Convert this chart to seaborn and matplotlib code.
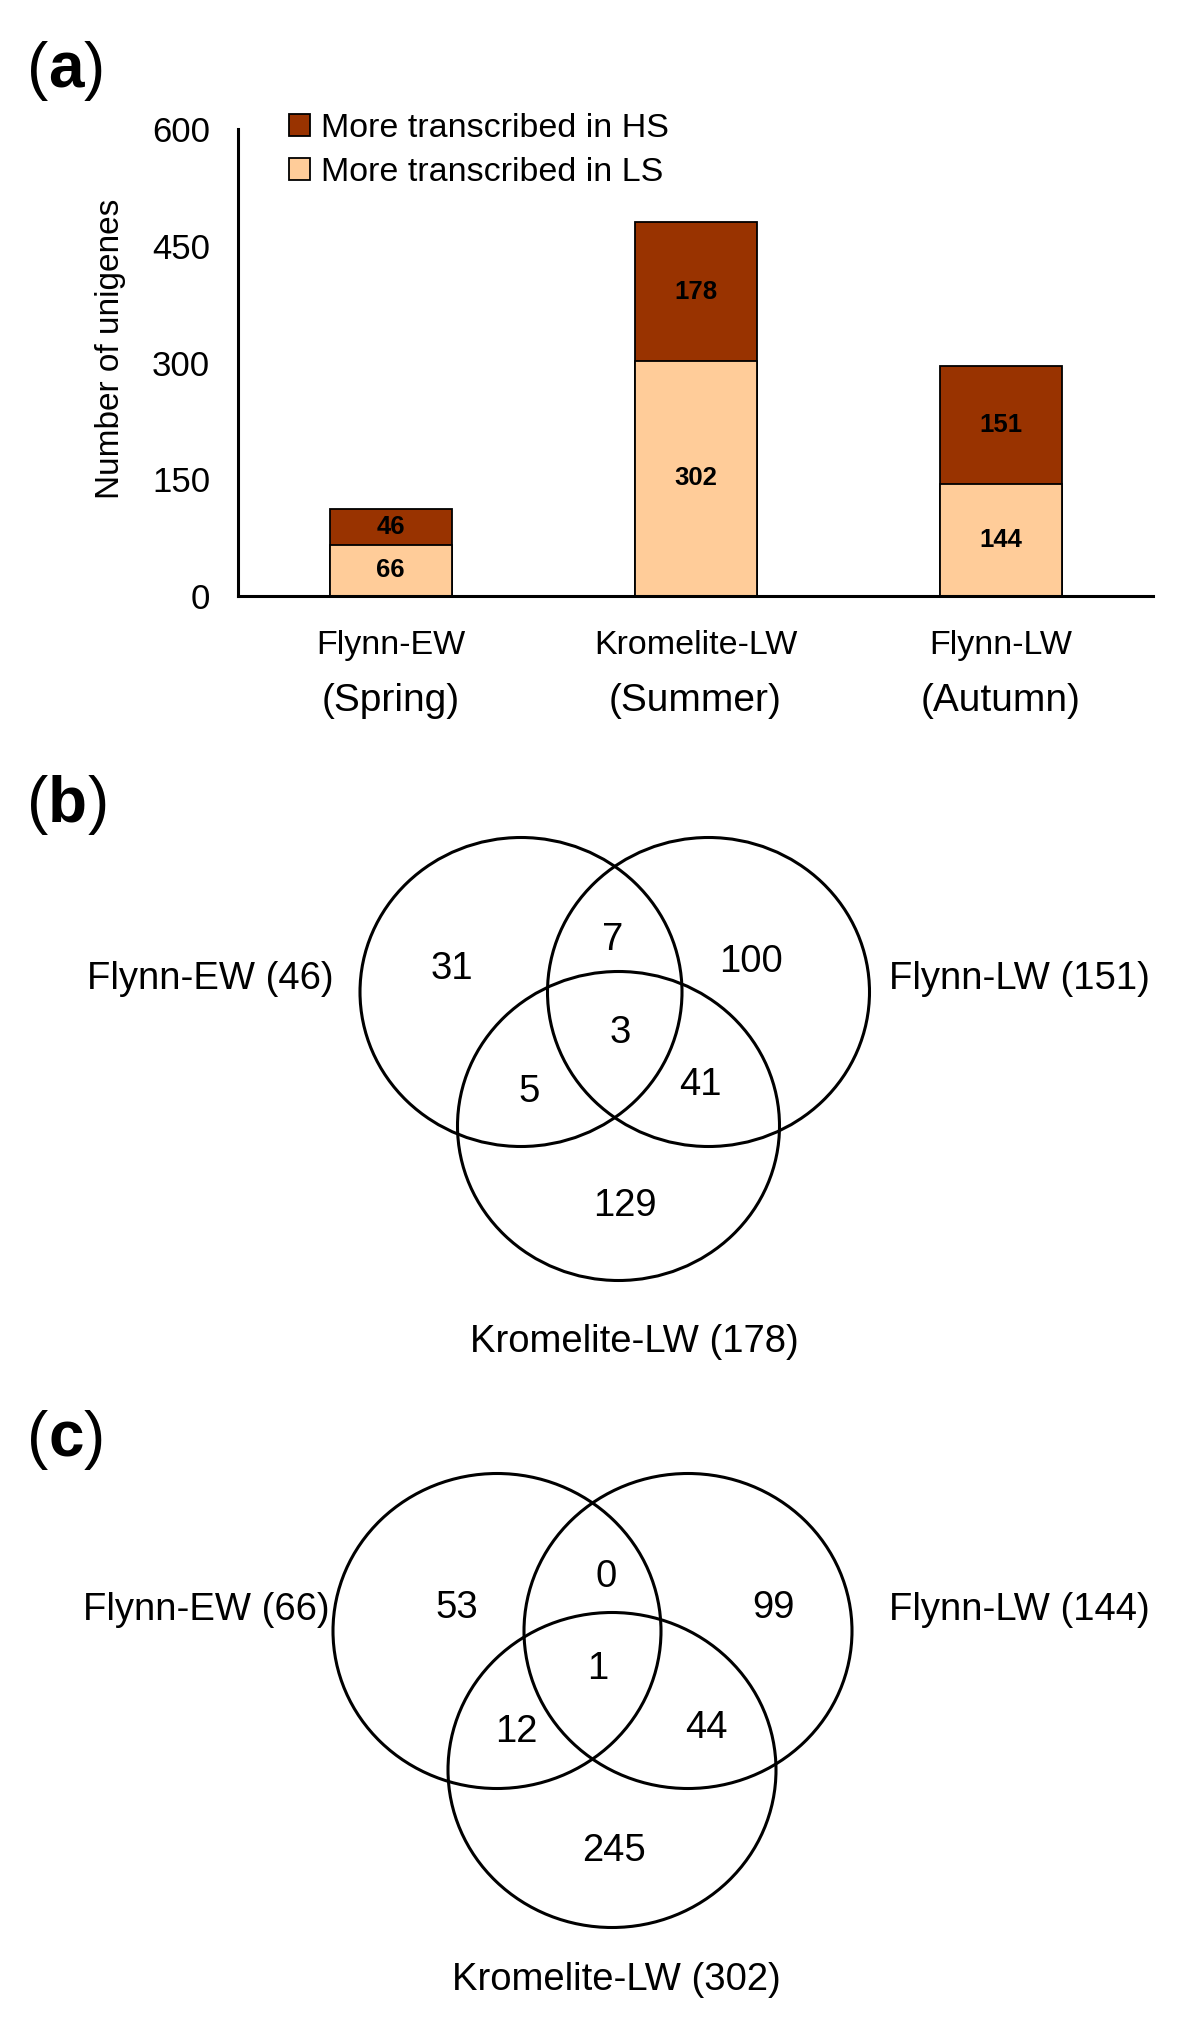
import numpy as np
import pandas as pd
import matplotlib
matplotlib.use("Agg")
import matplotlib.pyplot as plt
from matplotlib.patches import Ellipse
import seaborn as sns

# data
cultivars = ["Flynn-EW", "Kromelite-LW", "Flynn-LW"]
seasons = ["(Spring)", "(Summer)", "(Autumn)"]
more_hs = [46, 178, 151]
more_ls = [66, 302, 144]
legend_labels = ["More transcribed in HS", "More transcribed in LS"]
y_ticks = [0, 150, 300, 450, 600]

# venn region counts: [EW only, EW&LW, LW only, all three, EW&KL, LW&KL, KL only]
venn_hs = [31, 7, 100, 3, 5, 41, 129]
venn_ls = [53, 0, 99, 1, 12, 44, 245]

hs_color = "#993300"
ls_color = "#FFCC99"

W, H = 1200, 2018
sns.set_style("white")
plt.rcParams["font.family"] = ["Liberation Sans", "DejaVu Sans"]
plt.rcParams["text.color"] = "black"
plt.rcParams["axes.labelcolor"] = "black"
plt.rcParams["xtick.color"] = "black"
plt.rcParams["ytick.color"] = "black"

fig = plt.figure(figsize=(W / 100, H / 100), dpi=100)

# ---- panel (a): stacked bars ----
ax = fig.add_axes([238 / W, 1 - 596 / H, 915 / W, 467 / H])
df = pd.DataFrame({"cultivar": cultivars, "hs": more_hs, "ls": more_ls})
df["total"] = df["hs"] + df["ls"]

sns.barplot(data=df, x="cultivar", y="total", color=hs_color, saturation=1,
            width=0.4, edgecolor="black", linewidth=1.3, label=legend_labels[0], ax=ax)
sns.barplot(data=df, x="cultivar", y="ls", color=ls_color, saturation=1,
            width=0.4, edgecolor="black", linewidth=1.3, label=legend_labels[1], ax=ax)

for i, row in df.iterrows():
    ax.text(i, row["ls"] + row["hs"] / 2, str(row["hs"]), ha="center", va="center",
            fontsize=18.5, fontweight="bold")
    ax.text(i, row["ls"] / 2, str(row["ls"]), ha="center", va="center",
            fontsize=18.5, fontweight="bold")
    ax.text(i, -0.105, cultivars[i], transform=ax.get_xaxis_transform(),
            ha="center", va="center", fontsize=24.5)
    ax.text(i, -0.225, seasons[i], transform=ax.get_xaxis_transform(),
            ha="center", va="center", fontsize=28)

ax.set_xlim(-0.5, 2.5)
ax.set_ylim(0, 600)
ax.set_xticks([0.5, 1.5, 2.5], labels=[])
ax.set_yticks(y_ticks)
ax.set_xlabel("")
ax.set_ylabel("")
ax.text(-0.139, 0.53, "Number of unigenes", transform=ax.transAxes, rotation=90,
        ha="center", va="center", fontsize=24)
for side in ["top", "right"]:
    ax.spines[side].set_visible(False)
for side in ["left", "bottom"]:
    ax.spines[side].set_linewidth(2.2)
    ax.spines[side].set_color("black")
ax.tick_params(axis="both", direction="in", length=8, width=2.2, color="black")
ax.tick_params(axis="y", labelsize=25, pad=20)
ax.patch.set_alpha(0)

ax.legend(loc="upper left", bbox_to_anchor=(289 / W, 1 - 113 / H),
          bbox_transform=fig.transFigure, frameon=False, fontsize=24.5,
          handlelength=0.62, handleheight=0.62, handletextpad=0.32,
          labelspacing=0.38, borderpad=0, borderaxespad=0)

# ---- overlay for panel labels and venn diagrams (pixel coordinates) ----
ov = fig.add_axes([0, 0, 1, 1], zorder=-1)
ov.set_xlim(0, W)
ov.set_ylim(H, 0)
ov.axis("off")


def ctext(x, y, s, size=27.5, ha="center", **kw):
    # y is the visual centre of the capitals
    ov.text(x, y + 0.358 * size * 100 / 72, s, ha=ha, va="baseline", fontsize=size, **kw)


def panel_label(letter, x, y, size=46):
    t1 = ov.text(x, y + 0.26 * size * 100 / 72, "(", fontsize=size, ha="left", va="baseline")
    t2 = ov.annotate(letter, xy=(1, 0), xycoords=t1, fontsize=size, fontweight="bold",
                     ha="left", va="bottom")
    ov.annotate(")", xy=(1, 0), xycoords=t2, fontsize=size, ha="left", va="bottom")


panel_label("a", 27, 71)
panel_label("b", 27, 805)
panel_label("c", 27, 1440)

venn_panels = [
    {
        "counts": venn_hs,
        "sets": [more_hs[0], more_hs[2], more_hs[1]],
        "centres": [(521, 992), (708.5, 992), (618.5, 1126)],
        "r": (161, 154.5),
        "spots": [(452, 965), (613, 936), (751, 958), (620, 1029),
                  (529, 1088), (700, 1081), (625, 1202)],
        "left": (334, 975), "right": (889, 975), "bottom": (634, 1338),
    },
    {
        "counts": venn_ls,
        "sets": [more_ls[0], more_ls[2], more_ls[1]],
        "centres": [(497, 1631), (688, 1631), (612, 1770)],
        "r": (164, 157.5),
        "spots": [(457, 1604), (606, 1573), (774, 1604), (598, 1665),
                  (516, 1728), (706, 1724), (614, 1847)],
        "left": (330, 1606), "right": (889, 1606), "bottom": (616, 1976),
    },
]

for p in venn_panels:
    rx, ry = p["r"]
    for cx, cy in p["centres"]:
        ov.add_patch(Ellipse((cx, cy), 2 * rx, 2 * ry, fill=False,
                             edgecolor="black", linewidth=2.2))
    for (x, y), n in zip(p["spots"], p["counts"]):
        ctext(x, y, str(n))
    ctext(*p["left"], f"{cultivars[0]} ({p['sets'][0]})", ha="right")
    ctext(*p["right"], f"{cultivars[2]} ({p['sets'][1]})", ha="left")
    ctext(*p["bottom"], f"{cultivars[1]} ({p['sets'][2]})")

fig.savefig("out.png", dpi=100, facecolor="white")
